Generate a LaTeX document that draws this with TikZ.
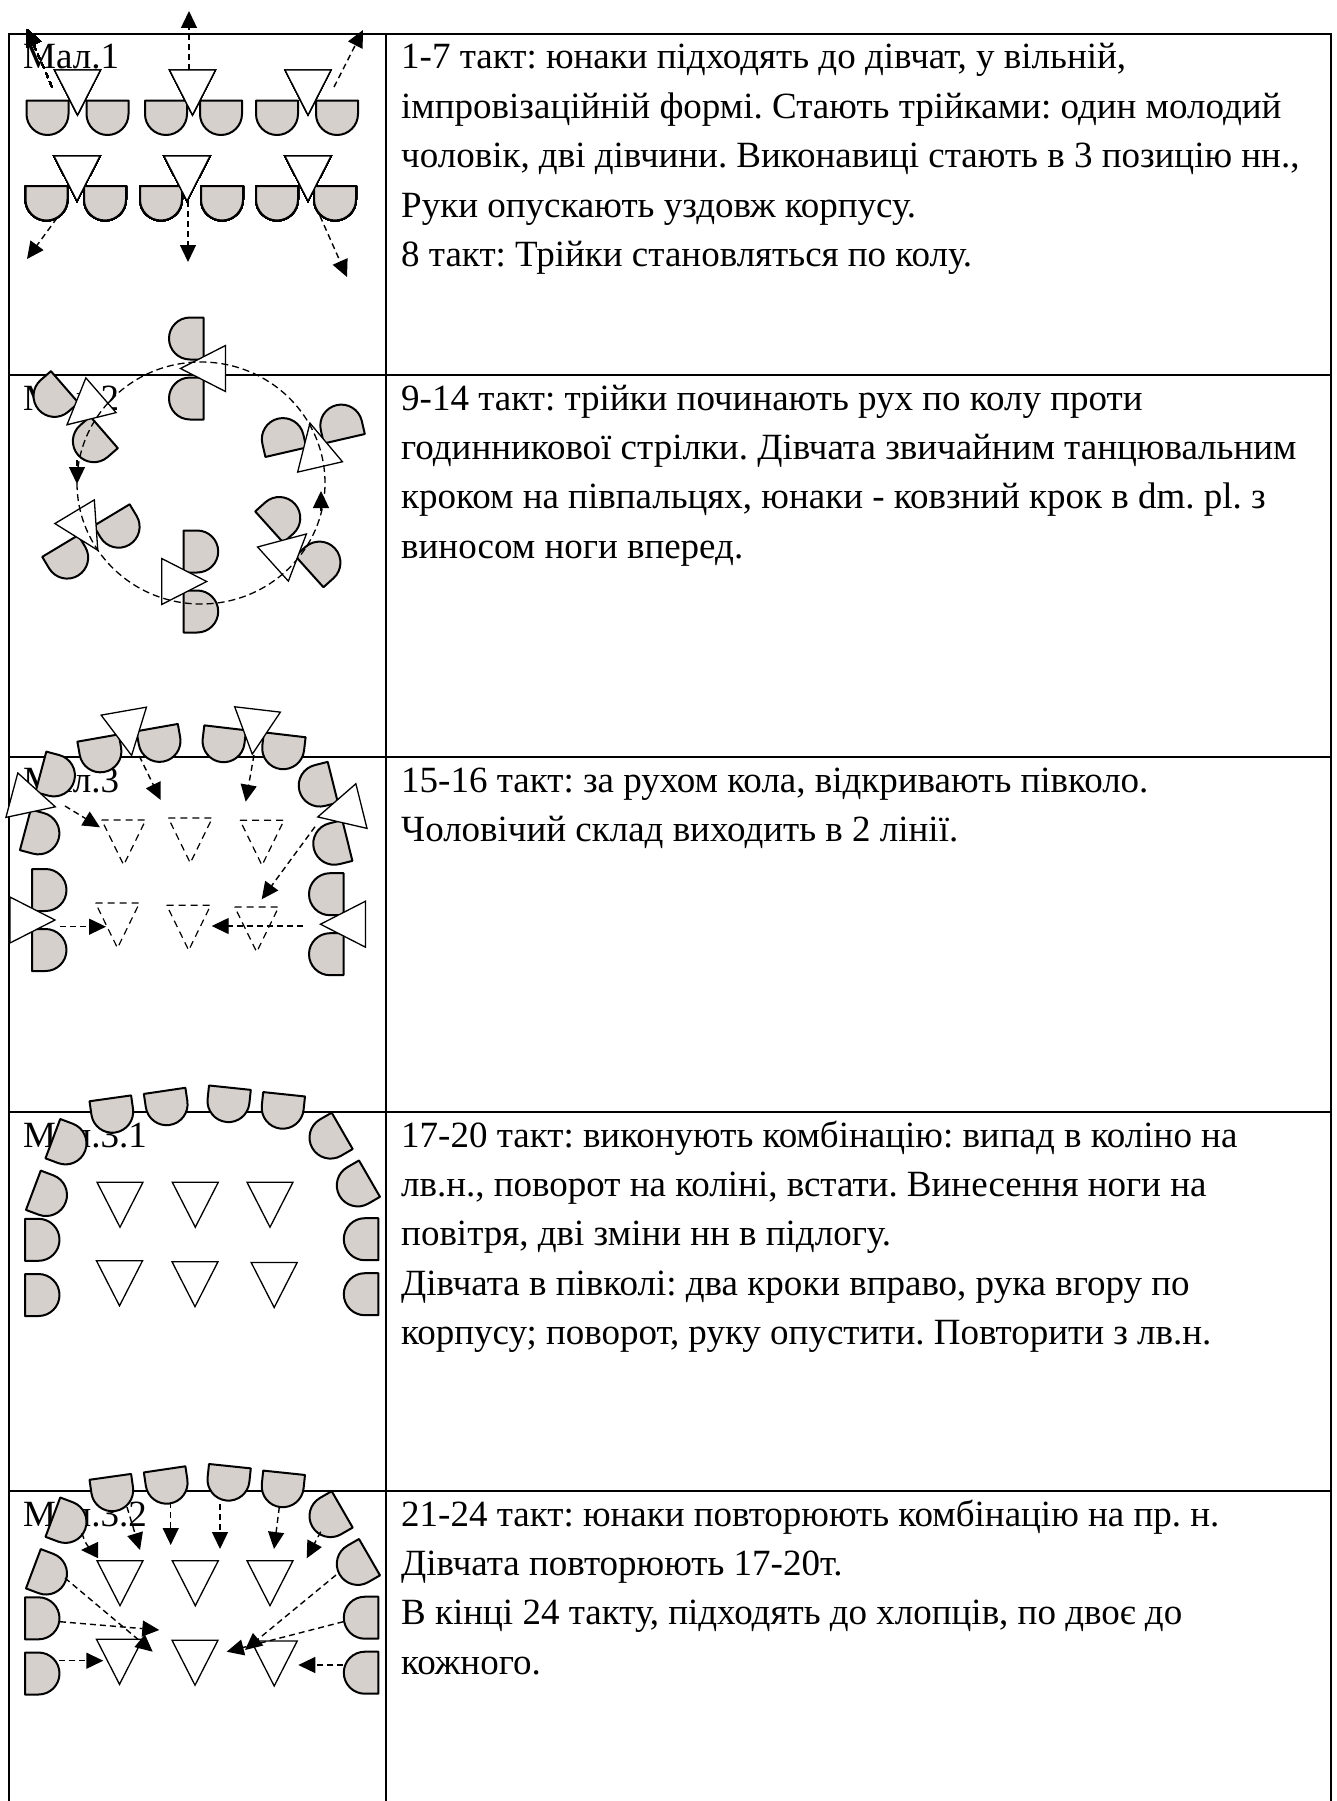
\documentclass[tikz,border=0pt]{standalone}
\usepackage{fontspec}
\setmainfont{Liberation Serif}
\usetikzlibrary{arrows.meta}
\definecolor{girlfill}{RGB}{213,208,204}

\tikzset{
  tbl/.style={line width=1.5pt},
  girl/.style={draw, fill=girlfill, line width=2pt, line join=round},
  boy/.style={draw, fill=white, line width=1.3pt},
  ghost/.style={draw, line width=1.2pt, dash pattern=on 7pt off 5pt},
  move/.style={line width=1.4pt, dash pattern=on 6pt off 4pt,
    -{Triangle[length=17pt,width=16pt]}},
  track/.style={line width=1.3pt, dash pattern=on 7pt off 4pt},
  lbl/.style={anchor=base west, inner sep=0pt,
    font=\fontsize{37}{49.4}\selectfont\frenchspacing},
}

% girl: flat edge on top, round side below (local), centre = centre of the round part
\newcommand\girlD[3]{%
  \begin{scope}[shift={(#1,#2)},rotate=#3]
    \draw[girl] (-21,-13.5) -- (21,-13.5) -- (21,0)
      arc[start angle=0,end angle=-180,radius=21pt] -- cycle;
  \end{scope}}
% boy: triangle with its tip pointing down (local)
\newcommand\boyT[3]{%
  \begin{scope}[shift={(#1,#2)},rotate=#3]
    \draw[boy] (-23,-22.5) -- (23,-22.5) -- (0,22.5) -- cycle;
  \end{scope}}
% place that a boy will take
\newcommand\ghostT[2]{%
  \draw[ghost] (#1-22,#2-22.5) -- (#1+22,#2-22.5) -- (#1,#2+22.5) -- cycle;}
% a boy with two girls in front, facing the direction of travel
\newcommand\trio[3]{%
  \begin{scope}[shift={(#1,#2)},rotate=#3]
    \girlD{-30}{13}{0}
    \girlD{30}{13}{0}
    \boyT{0}{0}{0}
  \end{scope}}
% half-circle of girls with two lines of boys
\newcommand\halfring{%
  \girlD{112.2}{1111.7}{8}
  \girlD{166.6}{1104.2}{8.4}
  \girlD{228.5}{1101.1}{-6}
  \girlD{282.7}{1107.7}{-6}
  \girlD{65.5}{1143.4}{69.4}
  \girlD{46}{1195}{69.4}
  \girlD{38.5}{1239.8}{90}
  \girlD{38.5}{1295}{90}
  \girlD{330.5}{1137.6}{-60}
  \girlD{357.8}{1185.4}{-60}
  \girlD{364.8}{1239.2}{-90}
  \girlD{364.8}{1294.2}{-90}
  \boyT{120}{1204.7}{0}
  \boyT{195.3}{1204.7}{0}
  \boyT{270}{1204.7}{0}
  \boyT{119.5}{1283.3}{0}
  \boyT{195}{1284.2}{0}
  \boyT{274.2}{1285}{0}}

\begin{document}
\begin{tikzpicture}[x=1pt,y=-1pt]
\fill[white] (0,0) rectangle (1336,1801);
\useasboundingbox (0,0) rectangle (1336,1801);

% table
\draw[tbl] (9,1801) -- (9,34) -- (1331,34) -- (1331,1801);
\draw[tbl] (386,34) -- (386,1801);
\foreach \yy in {375,757,1112,1491} \draw[tbl] (9,\yy) -- (1331,\yy);

% figure captions
\node[lbl] (m1) at (23,69) {Мал.1};
\node[lbl] (m2) at (23,410) {Мал.2};
\node[lbl] (m3) at (23,792) {Мал.3};
\node[lbl] (m31) at (23,1147) {Мал.3.1};
\node[lbl] (m32) at (23,1526) {Мал.3.2};

% descriptions
\node[lbl] (t1a) at (401,69) {1-7 такт: юнаки підходять до дівчат, у вільній,};
\node[lbl] (t1b) at (401,118.4) {імпровізаційній формі. Стають трійками: один молодий};
\node[lbl] (t1c) at (401,167.8) {чоловік, дві дівчини. Виконавиці стають в 3 позицію нн.,};
\node[lbl] (t1d) at (401,217.2) {Руки опускають уздовж корпусу.};
\node[lbl] (t1e) at (401,266.6) {8 такт: Трійки становляться по колу.};

\node[lbl] (t2a) at (401,410) {9-14 такт: трійки починають рух по колу проти};
\node[lbl] (t2b) at (401,459.4) {годинникової стрілки. Дівчата звичайним танцювальним};
\node[lbl] (t2c) at (401,508.8) {кроком на півпальцях, юнаки - ковзний крок в dm. pl. з};
\node[lbl] (t2d) at (401,558.2) {виносом ноги вперед.};

\node[lbl] (t3a) at (401,792) {15-16 такт: за рухом кола, відкривають півколо.};
\node[lbl] (t3b) at (401,841.4) {Чоловічий склад виходить в 2 лінії.};

\node[lbl] (t4a) at (401,1147) {17-20 такт: виконують комбінацію: випад в коліно на};
\node[lbl] (t4b) at (401,1196.4) {лв.н., поворот на коліні, встати. Винесення ноги на};
\node[lbl] (t4c) at (401,1245.8) {повітря, дві зміни нн в підлогу.};
\node[lbl] (t4d) at (401,1295.2) {Дівчата в півколі: два кроки вправо, рука вгору по};
\node[lbl] (t4e) at (401,1344.6) {корпусу; поворот, руку опустити. Повторити з лв.н.};

\node[lbl] (t5a) at (401,1526) {21-24 такт: юнаки повторюють комбінацію на пр. н.};
\node[lbl] (t5b) at (401,1575.4) {Дівчата повторюють 17-20т.};
\node[lbl] (t5c) at (401,1624.8) {В кінці 24 такту, підходять до хлопців, по двоє до};
\node[lbl] (t5d) at (401,1674.2) {кожного.};

% ---- Мал.1: six trios in two rows
\foreach \gx in {47.5,107.5,166,221,277,337} \girlD{\gx}{114}{0}
\foreach \bx in {77.5,192.5,308} \boyT{\bx}{92.5}{0}
\foreach \gx in {46.5,105,161,222,277,335} \girlD{\gx}{199.5}{0}
\foreach \bx in {77,187,308} \boyT{\bx}{178.5}{0}
\draw[move] (52,87) -- (27,29);
\draw[move] (189,70) -- (189,11);
\draw[move] (334,87) -- (363,30);
\draw[move] (57,218) -- (27,259);
\draw[move] (188,201) -- (188,262);
\draw[move] (320,216) -- (347,277);

% ---- Мал.2: trios on the circle
\trio{203}{368.5}{-90}
\trio{84}{410}{-49}
\trio{315}{445}{-167}
\trio{86.2}{531}{31}
\trio{184.2}{581.5}{90}
\trio{289.7}{549}{132}
\draw[track] (201,483) ellipse [x radius=124pt, y radius=121pt];
\draw[move] (77,460) -- (77,484);
\draw[move] (321,511) -- (321,491);

% ---- Мал.3: opening the half-circle
\trio{127.7}{733.3}{10}
\trio{254.9}{731.8}{-6.7}
\trio{33.6}{801}{75}
\trio{339.6}{811.5}{-76}
\trio{32.5}{920}{90}
\trio{343}{924.2}{-90}
\ghostT{123.7}{842.5}
\ghostT{190.3}{840.5}
\ghostT{262}{842.8}
\ghostT{117.5}{925.5}
\ghostT{188.7}{927.8}
\ghostT{256.7}{929.5}
\draw[move] (139.3,756) -- (160.7,800);
\draw[move] (254,755) -- (245.7,801.7);
\draw[move] (65,806) -- (100,827.3);
\draw[move] (315,826.7) -- (261.7,899.3);
\draw[move] (60,926.7) -- (106,926.7);
\draw[move] (303.3,926) -- (211.7,926);

% ---- Мал.3.1
\halfring

% ---- Мал.3.2
\begin{scope}[shift={(0,378.5)}]
\halfring
\end{scope}
\draw[move] (82,1533) .. controls (87,1550) and (92,1550) .. (81,1550);
\draw[move] (127,1507) -- (140,1550);
\draw[move] (170.7,1502) -- (170.7,1545);
\draw[move] (220,1504) -- (220,1549);
\draw[move] (279.3,1507) -- (274,1549);
\draw[move] (320.7,1531.7) -- (306.7,1558.3);
\draw[move] (65,1578) -- (152.7,1651.7);
\draw[move] (60,1621.7) -- (159.3,1630);
\draw[move] (59.3,1660.7) -- (103.3,1660.7);
\draw[move] (336,1575) -- (245,1650);
\draw[move] (343.3,1621.7) -- (226.7,1651.7);
\draw[move] (343.3,1665) -- (298.3,1665);
\end{tikzpicture}
\end{document}
